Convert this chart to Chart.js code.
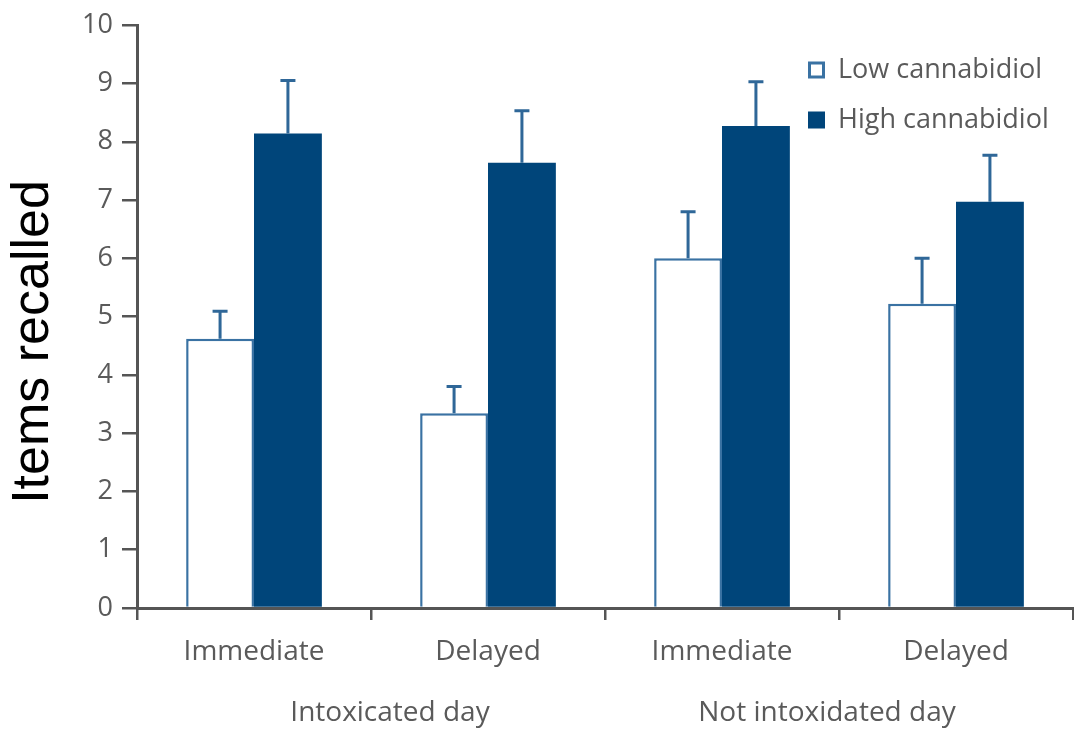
<!DOCTYPE html>
<html>
<head>
<meta charset="utf-8">
<script src="https://cdn.jsdelivr.net/npm/chart.js@4.4.1/dist/chart.umd.min.js"></script>
<style>
  html, body { margin: 0; padding: 0; background: #ffffff; }
  #wrap { width: 1074px; height: 730px; position: relative; }
</style>
</head>
<body>
<div id="wrap"><canvas id="c" width="1074" height="730"></canvas></div>
<script>
// ---- data ----
const categories = ['Immediate', 'Delayed', 'Immediate', 'Delayed'];
const groups = ['Intoxicated day', 'Not intoxidated day'];
const seriesNames = ['Low cannabidiol', 'High cannabidiol'];
const lowValues = [4.62, 3.34, 6.00, 5.22];
const highValues = [8.14, 7.64, 8.27, 6.97];
const lowErrors = [0.47, 0.46, 0.80, 0.78];
const highErrors = [0.91, 0.89, 0.76, 0.80];
const yTicks = [0, 1, 2, 3, 4, 5, 6, 7, 8, 9, 10];
const yTitle = 'Items recalled';

const NAVY = '#00457a';
const EDGE = '#3a72a3';
const ERR = '#2f6798';
const AXIS = '#555555';
const TEXT = '#5a5a5a';
const FONT = '"Open Sans", "DejaVu Sans", sans-serif';
const groupShift = [19, -12];

const errorBars = {
  id: 'errorBars',
  afterDatasetsDraw(chart) {
    const ctx = chart.ctx;
    const y = chart.scales.y;
    chart.data.datasets.forEach((ds, di) => {
      const meta = chart.getDatasetMeta(di);
      meta.data.forEach((bar, i) => {
        const top = y.getPixelForValue(ds.data[i]);
        const end = y.getPixelForValue(ds.data[i] + ds.errors[i]);
        ctx.save();
        ctx.strokeStyle = ERR;
        ctx.lineWidth = 3;
        ctx.beginPath();
        ctx.moveTo(bar.x, top);
        ctx.lineTo(bar.x, end);
        ctx.moveTo(bar.x - 7.5, end);
        ctx.lineTo(bar.x + 7.5, end);
        ctx.stroke();
        ctx.restore();
      });
    });
  }
};

const extras = {
  id: 'extras',
  afterDraw(chart) {
    const ctx = chart.ctx;
    const x = chart.scales.x;
    // y-axis title
    ctx.save();
    ctx.translate(34, 342);
    ctx.rotate(-Math.PI / 2);
    ctx.fillStyle = '#000000';
    ctx.font = '52px "Liberation Sans", Arial, sans-serif';
    ctx.textAlign = 'center';
    ctx.textBaseline = 'middle';
    ctx.fillText(yTitle, 0, 0);
    ctx.restore();
    // group labels
    ctx.save();
    ctx.fillStyle = TEXT;
    ctx.font = '28px ' + FONT;
    ctx.textAlign = 'center';
    ctx.textBaseline = 'middle';
    groups.forEach((g, gi) => {
      const cx = (x.getPixelForValue(gi * 2) + x.getPixelForValue(gi * 2 + 1)) / 2 + groupShift[gi];
      ctx.fillText(g, cx, 713);
    });
    ctx.restore();
    // legend
    ctx.save();
    ctx.font = '27px ' + FONT;
    ctx.textBaseline = 'middle';
    chart.data.datasets.forEach((ds, di) => {
      const yy = 70 + di * 50;
      const sx = 808, size = 17;
      if (di === 0) {
        ctx.fillStyle = '#ffffff';
        ctx.fillRect(sx, yy - size / 2, size, size);
        ctx.strokeStyle = EDGE;
        ctx.lineWidth = 3;
        ctx.strokeRect(sx + 1.5, yy - size / 2 + 1.5, size - 3, size - 3);
      } else {
        ctx.fillStyle = NAVY;
        ctx.fillRect(sx, yy - size / 2, size, size);
      }
      ctx.fillStyle = TEXT;
      ctx.fillText(ds.label, 838, yy);
    });
    ctx.restore();
  }
};

new Chart(document.getElementById('c'), {
  type: 'bar',
  data: {
    labels: categories,
    datasets: [
      { label: seriesNames[0], data: lowValues, errors: lowErrors,
        backgroundColor: '#ffffff', borderColor: EDGE, borderWidth: 2.5,
        barPercentage: 1.0, categoryPercentage: 0.58 },
      { label: seriesNames[1], data: highValues, errors: highErrors,
        backgroundColor: NAVY, borderColor: NAVY, borderWidth: 0,
        barPercentage: 1.0, categoryPercentage: 0.58 }
    ]
  },
  options: {
    responsive: false,
    animation: false,
    devicePixelRatio: 1,
    layout: { padding: { top: 21, right: 1, left: 0, bottom: 0 } },
    plugins: { legend: { display: false }, tooltip: { enabled: false } },
    scales: {
      x: {
        afterFit(s) { s.height = 122; },
        grid: { drawOnChartArea: false, drawTicks: true, tickLength: 12, tickColor: AXIS, lineWidth: 2.5, offset: true },
        border: { display: true, color: AXIS, width: 3 },
        ticks: { color: TEXT, font: { family: FONT, size: 28 }, padding: 15 }
      },
      y: {
        min: 0, max: 10,
        afterFit(s) { s.width = 137; },
        afterBuildTicks(s) { s.ticks = yTicks.map(v => ({ value: v })); },
        grid: { drawOnChartArea: false, drawTicks: true, tickLength: 15, tickColor: AXIS, lineWidth: 2.5 },
        border: { display: true, color: AXIS, width: 3 },
        ticks: { color: TEXT, font: { family: FONT, size: 27 }, padding: 9 }
      }
    }
  },
  plugins: [errorBars, extras]
});
</script>
</body>
</html>
